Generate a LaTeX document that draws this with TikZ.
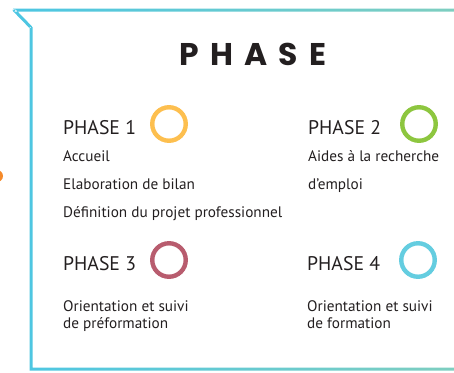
\documentclass[tikz,border=0pt]{standalone}
\usepackage{fontspec}
\setmainfont{PT Sans}
\newfontfamily\titlefont[LetterSpace=36]{Poppins}
\usetikzlibrary{calc}
\definecolor{frameA}{HTML}{4CC6E3}
\definecolor{frameB}{HTML}{7ECEC0}
\definecolor{txt}{HTML}{231F20}
\definecolor{ringY}{HTML}{FDBF4F}
\definecolor{ringG}{HTML}{8DC63F}
\definecolor{ringR}{HTML}{B85C6E}
\definecolor{ringC}{HTML}{64CDE0}
\definecolor{blob}{HTML}{F58A2A}
\tikzset{
  phasehead/.style={anchor=base west, inner sep=0pt, text=txt, font=\fontsize{19.8}{22}\selectfont},
  bodytext/.style={anchor=base west, inner sep=0pt, text=txt, font=\fontsize{15.3}{17}\selectfont},
  ring/.style={circle, draw=#1, line width=4.4bp, minimum size=33.5bp, inner sep=0pt},
}
\begin{document}
\begin{tikzpicture}[x=1bp,y=-1bp]
\useasboundingbox (0,0) rectangle (454,372);
% orange blob at left edge
\begin{scope}
\clip (0,0) rectangle (454,372);
\fill[blob] (-3,176) circle (6);
\end{scope}
% gradient frame
\begin{scope}
\clip (13,8.5) rectangle (454,11.5)
      (15.07,8.95) -- (32.07,26.45) -- (29.93,28.55) -- (12.93,11.05) -- cycle
      (14,10) circle (1.5)
      (29.5,27) rectangle (32.5,370.5)
      (29.5,367.5) rectangle (454,370.5);
\shade[left color=frameA, right color=frameB] (10,0) rectangle (454,372);
\end{scope}
% title
\node[anchor=base west, inner sep=0pt, text=txt, font=\titlefont\bfseries\fontsize{31.5}{33}\selectfont] (title) at (179,65) {PHASE};
% phase 1
\node[phasehead] (p1) at (63,134) {PHASE 1};
\node[ring=ringY] (r1) at (169,124) {};
\node[bodytext] (p1a) at (63,161) {Accueil};
\node[bodytext] (p1b) at (63,189) {Elaboration de bilan};
\node[bodytext] (p1c) at (63,217) {Définition du projet professionnel};
% phase 2
\node[phasehead] (p2) at (308,134) {PHASE 2};
\node[ring=ringG] (r2) at (419,124) {};
\node[bodytext] (p2a) at (308,161) {Aides à la recherche};
\node[bodytext] (p2b) at (308,189) {d’emploi};
% phase 3
\node[phasehead] (p3) at (63,270) {PHASE 3};
\node[ring=ringR] (r3) at (169,260) {};
\node[bodytext] (p3a) at (63,311) {Orientation et suivi};
\node[bodytext] (p3b) at (63,328) {de préformation};
% phase 4
\node[phasehead] (p4) at (307,270) {PHASE 4};
\node[ring=ringC] (r4) at (418,260) {};
\node[bodytext] (p4a) at (307,311) {Orientation et suivi};
\node[bodytext] (p4b) at (307,328) {de formation};
\end{tikzpicture}
\end{document}
